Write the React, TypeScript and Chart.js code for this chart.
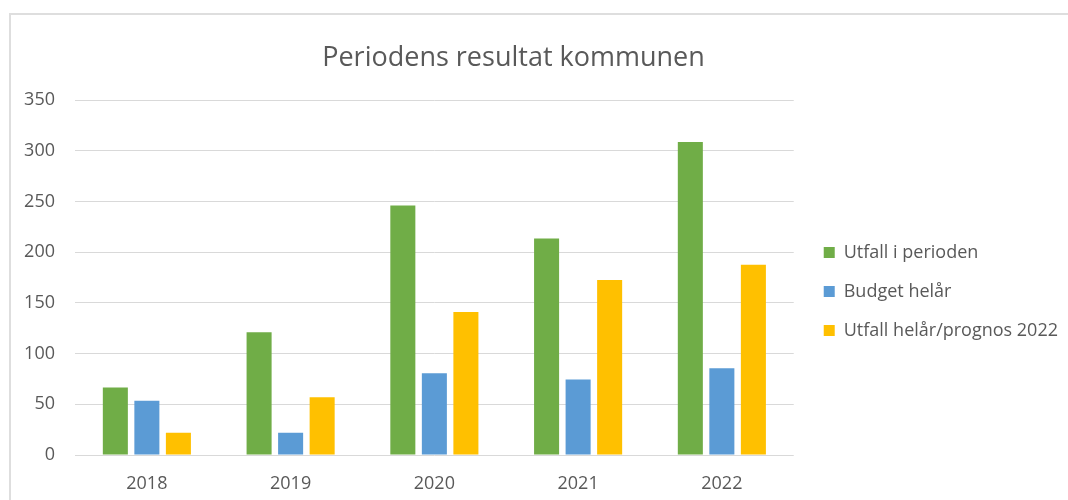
import React, { useEffect, useRef } from 'react';
import { Chart, registerables } from 'chart.js';
Chart.register(...registerables);

const categories = ['2018', '2019', '2020', '2021', '2022'];
const utfallIPerioden = [66.5, 121, 246, 213.5, 308.5];
const budgetHelar = [53.5, 22, 80.5, 74.5, 85.5];
const utfallHelarPrognos = [22, 57, 141, 172.5, 187.5];
const seriesLabels = ['Utfall i perioden', 'Budget helår', 'Utfall helår/prognos 2022'];
const seriesColors = ['#70AD47', '#5B9BD5', '#FFC000'];
const chartTitle = 'Periodens resultat kommunen';
const yMin = 0;
const yMax = 350;
const yStep = 50;

const FONT = '"Open Sans"';
const TEXT = '#595959';
const W = 1068;
const H = 500;
const LEG_FONT = 18;
const LEG_BOX = 11;
const LEG_PAD = 21;
const LEG_GAP = 9; // gap between plot area and legend box

const titleShift = {
  id: 'titleShift',
  afterLayout(chart: any) {
    const t = chart.titleBlock;
    if (t) {
      const c = 513.5;
      const half = (t.right - t.left) / 2;
      t.left = c - half;
      t.right = c + half;
    }
  },
};

export default function App() {
  const ref = useRef<HTMLCanvasElement>(null);
  useEffect(() => {
    document.body.style.margin = '0';
    document.body.style.overflow = 'hidden';
    const canvas = ref.current!;
    const ctx = canvas.getContext('2d')!;
    ctx.font = `${LEG_FONT}px ${FONT}`;
    const maxText = Math.max(...seriesLabels.map((s) => ctx.measureText(s).width));
    const legendW = LEG_PAD + LEG_BOX + LEG_FONT / 2 + maxText + 10;
    const rightPad = Math.max(0, W - 805 - legendW);
    const series = [utfallIPerioden, budgetHelar, utfallHelarPrognos];
    const chart = new Chart(canvas, {
      type: 'bar',
      data: {
        labels: categories,
        datasets: series.map((d, i) => ({
          label: seriesLabels[i],
          data: d,
          backgroundColor: seriesColors[i],
          borderWidth: 0,
          categoryPercentage: 0.658,
          barPercentage: 0.794,
        })),
      },
      options: {
        responsive: false,
        maintainAspectRatio: false,
        animation: false,
        layout: { padding: { left: 0, right: rightPad, top: 0, bottom: 0 } },
        plugins: {
          title: {
            display: true,
            text: chartTitle,
            color: TEXT,
            font: { family: FONT, size: 27, weight: 'normal' },
            padding: { top: 42, bottom: 25.6 },
          },
          legend: {
            position: 'right',
            align: 'center',
            maxWidth: 400,
            title: { display: true, text: ' ', font: { size: 12 }, padding: { top: 7, bottom: 61.6 } },
            labels: {
              color: TEXT,
              font: { family: FONT, size: LEG_FONT },
              boxWidth: LEG_BOX,
              boxHeight: LEG_BOX,
              padding: LEG_PAD,
            },
          },
          tooltip: { enabled: false },
        },
        scales: {
          x: {
            grid: { display: false, drawTicks: false },
            border: { display: false },
            ticks: { color: TEXT, font: { family: FONT, size: 18 }, padding: 18 },
            afterFit: (s: any) => { s.height = 45; },
          },
          y: {
            min: yMin,
            max: yMax,
            ticks: { stepSize: yStep, color: TEXT, font: { family: FONT, size: 18 }, padding: 20 },
            grid: { color: '#d9d9d9', lineWidth: 1, drawTicks: false },
            border: { display: false },
            afterFit: (s: any) => { s.width = 75; },
          },
          y2: {
            type: 'linear',
            position: 'right',
            display: true,
            grid: { display: false, drawTicks: false },
            border: { display: false },
            ticks: { display: false },
            afterFit: (s: any) => { s.width = LEG_GAP; },
          },
        },
      },
      plugins: [titleShift],
    } as any);
    return () => chart.destroy();
  }, []);
  return (
    <div style={{ position: 'relative', width: W, height: H, overflow: 'hidden', background: '#fff' }}>
      <div style={{ position: 'absolute', left: 9, top: 13, width: 1100, height: 540, border: '2px solid #dedede', boxSizing: 'border-box' }} />
      <div style={{ position: 'absolute', left: 0, top: 0, width: W, height: H }}>
        <canvas ref={ref} width={W} height={H} style={{ display: 'block' }} />
      </div>
    </div>
  );
}
